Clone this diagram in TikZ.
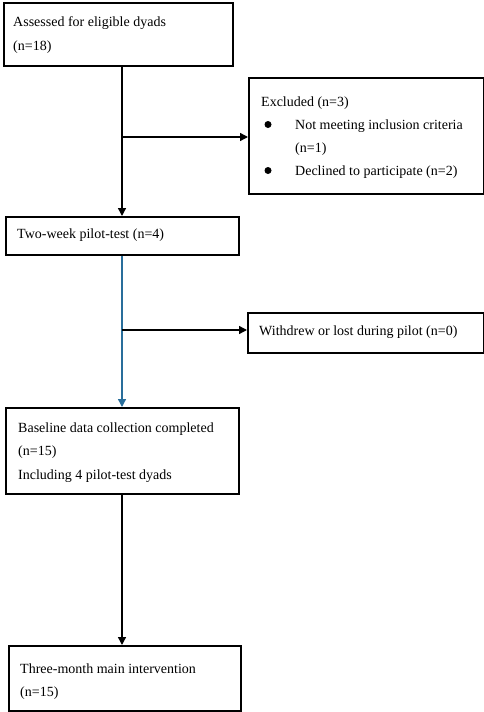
\documentclass[tikz,border=0pt]{standalone}
\usepackage{fontspec}
\setmainfont{Liberation Serif}
\usetikzlibrary{arrows.meta}
\definecolor{flowblue}{RGB}{41,110,155}
\begin{document}
\begin{tikzpicture}[x=1pt,y=-1pt,
  box/.style={draw, line width=1.8pt, inner sep=0pt, anchor=north west},
  txt/.style={anchor=base west, inner sep=0pt, font=\fontsize{14}{16}\selectfont},
  dot/.style={circle, fill, inner sep=0pt, minimum size=7pt},
  conn/.style={line width=1.4pt, -{Triangle[length=8pt,width=8pt]}}]
\useasboundingbox (0,0) rectangle (484,712);
% boxes
\node[box, minimum width=229pt, minimum height=63pt] (b1) at (3,2) {};
\node[box, minimum width=235pt, minimum height=116pt] (ex) at (248,77) {};
\node[box, minimum width=233pt, minimum height=38pt] (pt) at (5,216) {};
\node[box, minimum width=236pt, minimum height=40pt] (wd) at (247,312) {};
\node[box, minimum width=233pt, minimum height=86pt] (bl) at (5,407) {};
\node[box, minimum width=232pt, minimum height=65pt] (tm) at (8,645) {};
% texts
\node[txt] (t1a) at (13,27) {Assessed for eligible dyads};
\node[txt] (t1b) at (13,50) {(n=18)};
\node[txt] (exa) at (261,106) {Excluded (n=3)};
\node[dot] (exb1) at (268,124.5) {};
\node[txt] (exb) at (295,129) {Not meeting inclusion criteria};
\node[txt] (exc) at (295,152) {(n=1)};
\node[dot] (exb2) at (268,170.5) {};
\node[txt] (exd) at (295,175) {Declined to participate (n=2)};
\node[txt] (pta) at (17,238) {Two-week pilot-test (n=4)};
\node[txt] (wda) at (259,335) {Withdrew or lost during pilot (n=0)};
\node[txt] (bla) at (18,432) {Baseline data collection completed};
\node[txt] (blb) at (18,455) {(n=15)};
\node[txt] (blc) at (18,479) {Including 4 pilot-test dyads};
\node[txt] (tma) at (20,673) {Three-month main intervention};
\node[txt] (tmb) at (20,696) {(n=15)};
% connectors
\coordinate (j1) at (122,137);
\coordinate (j2) at (122,330);
\coordinate (j3) at (122,560);
\draw[conn] (b1.south -| j1) -- (pt.north -| j1);
\draw[conn] (j1) -- (ex.west |- j1);
\draw[conn, flowblue] (pt.south -| j2) -- (bl.north -| j2);
\draw[conn] (j2) -- (wd.west |- j2);
\draw[conn] (bl.south -| j3) -- (tm.north -| j3);
\end{tikzpicture}
\end{document}
